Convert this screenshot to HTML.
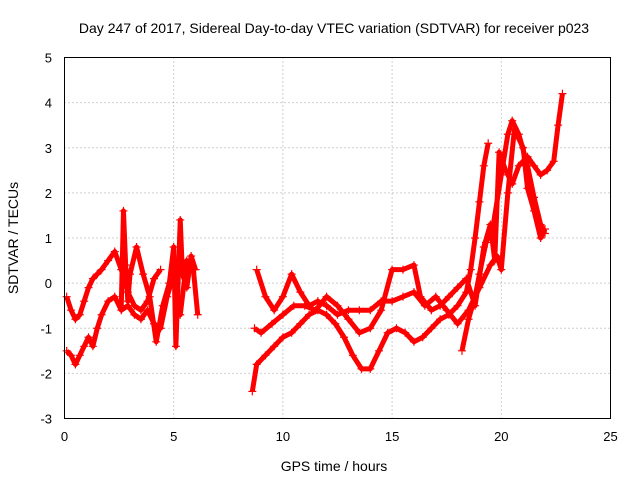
<!DOCTYPE html>
<html><head><meta charset="utf-8"><style>
body{margin:0;background:#fff;}
svg{display:block;font-family:"Liberation Sans",sans-serif;}
</style></head><body>
<svg id="chart" width="640" height="480">
<text x="334" y="33" font-size="14" text-anchor="middle">Day 247 of 2017, Sidereal Day-to-day VTEC variation (SDTVAR) for receiver p023</text>
<text x="334" y="471" font-size="14" text-anchor="middle">GPS time / hours</text>
<text transform="translate(18,238) rotate(-90)" font-size="14" text-anchor="middle">SDTVAR / TECUs</text>
<g id="grid"></g><g id="ticks"></g><g id="marks"></g>
<rect x="64.5" y="57.5" width="546" height="361" fill="none" stroke="#000"/>
</svg>
<script>
const xTicks=[0,5,10,15,20,25];
const yTicks=[-3,-2,-1,0,1,2,3,4,5];
const t1x=[0.1,0.3,0.5,0.7,0.9,1.1,1.3,1.5,1.7,2.0,2.3,2.6,2.9,3.2,3.5,3.8,4.1,4.4];
const t1y=[-0.3,-0.6,-0.8,-0.7,-0.4,-0.1,0.1,0.2,0.3,0.5,0.7,0.3,-0.2,-0.5,-0.6,-0.4,0.1,0.3];
const t2x=[0.1,0.3,0.5,0.7,0.9,1.1,1.3,1.5,1.7,2.0,2.3,2.6,2.9,3.2,3.5,3.8,4.1,4.4,4.7,5.0,5.3,5.6,5.9,6.1];
const t2y=[-1.5,-1.6,-1.8,-1.6,-1.4,-1.2,-1.4,-1.0,-0.7,-0.4,-0.3,-0.6,-0.5,-0.7,-0.8,-0.6,-0.9,-1.0,-0.3,0.2,-0.7,0.5,0.3,-0.7];
const t3x=[2.6,2.7,2.8,2.9,3.0,3.3,3.6,3.9,4.2,4.5,4.8,5.0,5.1,5.3,5.4,5.6,5.8,6.0];
const t3y=[-0.5,1.6,0.4,-0.4,0.2,0.8,0.2,-0.3,-1.3,-0.5,0.0,0.8,-1.4,1.4,0.2,-0.1,0.6,0.3];
const px=[8.6,8.8,9.2,9.6,10,10.4,10.8,11.2,11.6,12,12.4,12.8,13.2,13.6,14,14.4,14.8,15.2,15.6,16,16.4,16.8,17.2,17.6,18,18.4,18.6,18.8,19,19.2,19.4];
const py=[-2.4,-1.8,-1.6,-1.4,-1.2,-1.1,-0.9,-0.7,-0.6,-0.7,-0.9,-1.2,-1.6,-1.9,-1.9,-1.5,-1.1,-1.0,-1.1,-1.3,-1.2,-1.0,-0.8,-0.7,-0.5,-0.2,0.3,1.0,1.8,2.6,3.1];
const qx=[8.7,9,9.5,10,10.5,11,11.5,12,12.5,13,13.5,14,14.5,15,15.5,16,16.3,16.8,17.2,17.6,18,18.4,18.8,19.2,19.5,19.7,19.9,20.2,20.5,20.8,21.2,21.5,21.8,22.1,22.4,22.6,22.8];
const qy=[-1.0,-1.1,-0.9,-0.7,-0.5,-0.5,-0.6,-0.3,-0.5,-0.8,-1.1,-1.0,-0.6,0.3,0.3,0.4,-0.3,-0.6,-0.5,-0.3,-0.1,0.1,-0.5,0.8,1.3,0.5,2.9,2.5,2.2,2.6,2.8,2.6,2.4,2.5,2.7,3.5,4.2];
const rx=[8.8,9.2,9.6,10,10.4,10.8,11.2,11.6,12,12.5,13,13.5,14,14.5,15,15.5,16,16.5,17,17.5,18,18.5,19,19.5,19.8,20,20.3,20.6,21,21.2,21.5,21.8,22];
const ry=[0.3,-0.3,-0.6,-0.3,0.2,-0.2,-0.5,-0.4,-0.5,-0.7,-0.6,-0.6,-0.6,-0.4,-0.4,-0.3,-0.2,-0.5,-0.3,-0.6,-0.9,-0.6,-0.1,0.4,0.6,0.3,2.0,3.4,3.0,2.1,1.6,1.0,1.2];
const sx=[18.2,18.5,18.8,19.0,19.3,19.6,20.0,20.3,20.5,20.8,21.2,21.5,21.8,22.0];
const sy=[-1.5,-0.8,-0.3,0.2,0.9,1.2,2.4,3.3,3.6,3.3,2.6,1.9,1.3,1.1];
const series=[[t1x,t1y],[t2x,t2y],[t3x,t3y],[px,py],[qx,qy],[rx,ry],[sx,sy]];
const X=v=>64.5+v*546/25, Y=v=>418.5-(v+3)*361/8;
const NS='http://www.w3.org/2000/svg';
const grid=document.getElementById('grid'),ticks=document.getElementById('ticks'),marks=document.getElementById('marks');
function mk(t,a,p){const e=document.createElementNS(NS,t);for(const k in a)e.setAttribute(k,a[k]);p.appendChild(e);return e;}
xTicks.forEach(v=>{const x=X(v);
 if(v>0&&v<25){const g=mk('line',{x1:x,x2:x,y1:57.5,y2:418.5,stroke:'#a0a0a0','stroke-dasharray':'1,3'},grid);
 
 }
 const t=mk('text',{x:x,y:441,'font-size':13,'text-anchor':'middle'},ticks);t.textContent=v;
 
 });
yTicks.forEach(v=>{const y=Y(v);
 if(v>-3&&v<5){const g=mk('line',{x1:64.5,x2:610.5,y1:y,y2:y,stroke:'#a0a0a0','stroke-dasharray':'1,3'},grid);
 
 }
 const t=mk('text',{x:52,y:y+5,'font-size':13,'text-anchor':'end'},ticks);t.textContent=v;
 
 });
series.forEach((s,i)=>{const [xs,ys]=s;
 const pts=xs.map((x,j)=>X(x)+','+Y(ys[j])).join(' ');
 const pl=mk('polyline',{points:pts,fill:'none',stroke:'#ff0000','stroke-width':5,'stroke-linejoin':'round'},marks);
 
 
 let d='';xs.forEach((x,j)=>{const cx=X(x),cy=Y(ys[j]);d+=`M${cx-4},${cy}h8M${cx},${cy-4}v8`;});
 const p=mk('path',{d:d,stroke:'#ff0000','stroke-width':1.2},marks);
 
 });
</script>
</body></html>
